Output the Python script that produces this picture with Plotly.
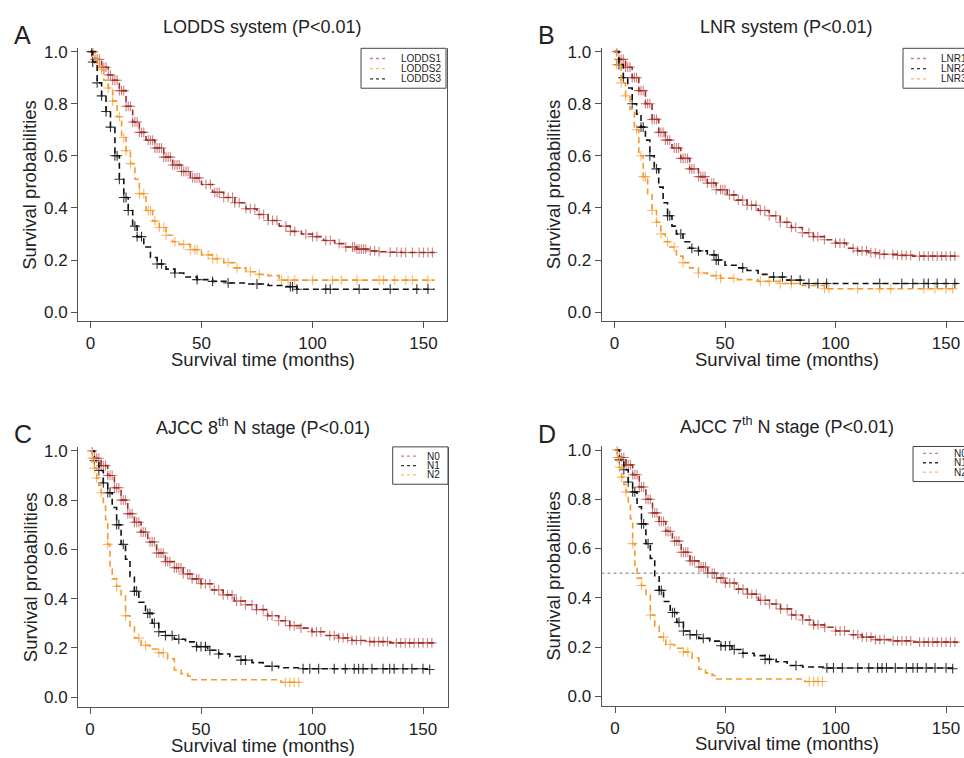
import numpy as np
import plotly.graph_objects as go

# ---------------- data ----------------
# Panel A: LODDS system
LODDS1_t = [0, 2, 5, 8, 10, 13, 16, 19, 22, 25, 29, 33, 37, 41, 45, 50, 55, 60, 65, 70, 75, 80, 85, 90, 95,
            100, 105, 110, 115, 120, 125, 130, 135, 140, 155]
LODDS1_s = [1.0, 0.97, 0.94, 0.91, 0.89, 0.85, 0.79, 0.73, 0.69, 0.66, 0.63, 0.595, 0.565, 0.54, 0.515, 0.49,
            0.46, 0.44, 0.42, 0.397, 0.375, 0.352, 0.33, 0.31, 0.30, 0.29, 0.275, 0.263, 0.25, 0.242, 0.235,
            0.232, 0.23, 0.229, 0.229]
LODDS1_cens = [1, 2, 3, 4, 5, 6, 7, 8, 9, 10, 11, 12, 13, 14, 15, 16, 17, 18, 19, 20, 21, 22, 23, 24, 26, 27,
               28, 29, 30, 31, 32, 33, 34, 35, 36, 37, 38, 39, 40, 41, 42, 43, 44, 46, 47, 48, 49, 52, 54, 56,
               57, 58, 60, 62, 64, 65, 67, 70, 72, 74, 76, 78, 80, 82, 84, 88, 90, 92, 97, 100, 102, 106, 108,
               112, 115, 118, 119, 120, 121, 122, 123, 124, 126, 128, 130, 135, 138, 140, 142, 145, 148, 150,
               152, 154]
LODDS2_t = [0, 2, 4, 6, 8, 10, 12, 14, 16, 18, 20, 22, 25, 28, 31, 34, 37, 40, 45, 50, 55, 60, 65, 70, 75, 80,
            85, 155]
LODDS2_s = [1.0, 0.97, 0.93, 0.89, 0.86, 0.81, 0.75, 0.67, 0.62, 0.57, 0.51, 0.455, 0.39, 0.35, 0.325, 0.295,
            0.27, 0.26, 0.24, 0.22, 0.205, 0.19, 0.17, 0.155, 0.145, 0.14, 0.123, 0.123]
LODDS2_cens = [1, 3, 5, 8, 10, 13, 15, 16, 18, 22, 24, 26, 27, 29, 31, 33, 34, 38, 42, 45, 47, 48, 53, 55,
               57, 62, 66, 72, 76, 86, 89, 92, 100, 109, 113, 120, 130, 132, 137, 142, 145, 152]
LODDS3_t = [0, 1, 3, 5, 7, 9, 11, 13, 15, 17, 19, 21, 24, 27, 30, 34, 38, 42, 48, 55, 62, 70, 80, 88, 93, 155]
LODDS3_s = [1.0, 0.96, 0.88, 0.83, 0.77, 0.71, 0.60, 0.51, 0.44, 0.39, 0.33, 0.29, 0.25, 0.21, 0.185, 0.165,
            0.15, 0.135, 0.125, 0.118, 0.112, 0.108, 0.102, 0.098, 0.088, 0.088]
LODDS3_cens = [0.5, 1, 3, 5, 7, 9, 11, 12, 13, 15, 16, 17, 20, 21, 23, 30, 32, 38, 48, 55, 62, 75, 90, 91,
               93, 106, 108, 121, 135, 147, 152]

# Panel B: LNR system
LNR1_t = [0, 2, 5, 8, 11, 14, 17, 20, 23, 26, 30, 34, 38, 42, 46, 51, 55, 60, 65, 70, 75, 80, 85, 90, 95, 100,
          105, 110, 115, 120, 128, 135, 155]
LNR1_s = [1.0, 0.97, 0.94, 0.90, 0.85, 0.80, 0.74, 0.69, 0.66, 0.63, 0.59, 0.55, 0.52, 0.495, 0.47, 0.45, 0.43,
          0.41, 0.39, 0.37, 0.345, 0.325, 0.305, 0.29, 0.278, 0.265, 0.245, 0.235, 0.228, 0.222, 0.218, 0.215,
          0.215]
LNR1_cens = [1, 2, 3, 4, 5, 6, 7, 8, 9, 10, 11, 12, 13, 14, 15, 16, 17, 18, 19, 20, 21, 22, 23, 24, 25, 27, 28,
             29, 30, 31, 32, 33, 34, 35, 36, 38, 39, 40, 41, 42, 44, 45, 46, 48, 49, 50, 52, 54, 56, 58, 60, 62,
             64, 66, 68, 70, 73, 75, 78, 80, 82, 85, 88, 90, 92, 95, 100, 102, 104, 108, 110, 112, 114, 116, 118,
             120, 122, 126, 128, 130, 132, 134, 138, 140, 142, 144, 146, 148, 150, 152, 154]
LNR2_t = [0, 2, 4, 6, 8, 10, 12, 14, 16, 18, 20, 22, 24, 26, 28, 31, 34, 38, 42, 46, 50, 55, 60, 65, 70, 77, 85,
          155]
LNR2_s = [1.0, 0.95, 0.90, 0.86, 0.80, 0.76, 0.71, 0.66, 0.60, 0.55, 0.48, 0.42, 0.37, 0.33, 0.30, 0.27, 0.245,
          0.235, 0.22, 0.20, 0.18, 0.17, 0.16, 0.145, 0.135, 0.123, 0.11, 0.107]
LNR2_cens = [2, 4, 8, 12, 13, 16, 19, 24, 25, 30, 35, 38, 45, 46, 47, 58, 72, 76, 80, 84, 88, 92, 96, 120, 130,
             135, 140, 142, 146, 150, 154]
LNR3_t = [0, 1, 3, 5, 7, 9, 11, 13, 15, 17, 19, 21, 23, 25, 28, 31, 34, 38, 42, 48, 55, 65, 75, 85, 95, 155]
LNR3_s = [1.0, 0.95, 0.88, 0.83, 0.78, 0.70, 0.60, 0.52, 0.45, 0.39, 0.345, 0.30, 0.27, 0.25, 0.215, 0.19, 0.17,
          0.15, 0.14, 0.13, 0.125, 0.118, 0.11, 0.102, 0.09, 0.088]
LNR3_cens = [1, 3, 5, 10, 12, 13, 14, 17, 19, 21, 24, 27, 31, 38, 46, 48, 54, 66, 70, 75, 80, 95, 97, 110, 120,
             125, 140, 145, 150, 153]

# Panel C: AJCC 8th N stage
N0_8_t = [0, 2, 5, 8, 11, 14, 17, 20, 23, 26, 30, 34, 38, 42, 46, 50, 55, 60, 65, 70, 75, 80, 85, 90, 95, 100,
          106, 112, 118, 125, 135, 155]
N0_8_s = [1.0, 0.97, 0.94, 0.90, 0.85, 0.80, 0.745, 0.71, 0.67, 0.63, 0.585, 0.55, 0.525, 0.50, 0.48, 0.46,
          0.435, 0.415, 0.39, 0.375, 0.355, 0.33, 0.31, 0.29, 0.28, 0.265, 0.25, 0.24, 0.23, 0.225, 0.22, 0.215]
N0_8_cens = [1, 2, 3, 4, 5, 6, 7, 8, 9, 10, 11, 12, 13, 14, 15, 16, 17, 18, 19, 20, 21, 22, 23, 24, 25, 27, 28,
             29, 30, 31, 32, 33, 34, 35, 36, 38, 39, 40, 41, 42, 44, 45, 46, 48, 49, 50, 52, 54, 56, 58, 60, 62,
             64, 66, 68, 70, 73, 75, 78, 80, 82, 85, 88, 90, 92, 95, 100, 102, 104, 108, 110, 112, 114, 116, 118,
             120, 122, 126, 128, 130, 132, 134, 138, 140, 142, 144, 146, 148, 150, 152, 154]
N1_8_t = [0, 2, 4, 6, 8, 10, 12, 14, 16, 18, 20, 22, 25, 28, 31, 34, 38, 43, 48, 53, 58, 63, 68, 73, 78, 85, 95,
          153]
N1_8_s = [1.0, 0.96, 0.92, 0.87, 0.83, 0.77, 0.70, 0.62, 0.56, 0.49, 0.43, 0.385, 0.34, 0.30, 0.265, 0.25,
          0.235, 0.224, 0.205, 0.19, 0.175, 0.165, 0.15, 0.14, 0.125, 0.119, 0.115, 0.112]
N1_8_cens = [2, 4, 6, 8, 9, 12, 13, 15, 20, 21, 26, 27, 29, 31, 34, 37, 40, 48, 50, 52, 54, 58, 68, 70, 82, 96,
             99, 103, 110, 115, 119, 121, 123, 127, 132, 135, 137, 141, 145, 150, 153]
N2_8_t = [0, 1, 2, 3, 4, 5, 6, 7, 8, 9, 10, 12, 14, 16, 18, 20, 23, 27, 31, 35, 38, 41, 44, 46, 86, 94.6]
N2_8_s = [1.0, 0.97, 0.93, 0.89, 0.86, 0.83, 0.79, 0.72, 0.62, 0.52, 0.48, 0.45, 0.41, 0.33, 0.285, 0.24, 0.21,
          0.195, 0.18, 0.155, 0.11, 0.095, 0.085, 0.07, 0.06, 0.06]
N2_8_cens = [1, 2, 3, 5, 8, 12, 16, 22, 25, 31, 33, 88, 90, 92, 94]

# Panel D: AJCC 7th N stage (same groups as the 8th edition in this cohort)
N0_7_t, N0_7_s, N0_7_cens = N0_8_t, N0_8_s, N0_8_cens
N1_7_t, N1_7_s, N1_7_cens = N1_8_t, N1_8_s, N1_8_cens
N2_7_t, N2_7_s, N2_7_cens = N2_8_t, N2_8_s, N2_8_cens

X_TICKS = [0, 50, 100, 150]
Y_TICKS = [0.0, 0.2, 0.4, 0.6, 0.8, 1.0]
Y_TICK_TEXT = ["0.0", "0.2", "0.4", "0.6", "0.8", "1.0"]
MEDIAN_LINE = 0.5

# ---------------- styling ----------------
W, H = 964, 758
FONT = "Liberation Sans, Arial, Helvetica, sans-serif"
TXT = "#222222"
AXC = "#555555"
RED = "#A52F2A"
ORANGE = "#F5992B"
BLACK = "#111111"
RED_M = "rgba(165,47,42,0.6)"
ORANGE_M = "rgba(245,153,43,0.7)"
BLACK_M = "rgba(17,17,17,0.85)"


def fx(p):
    return p / W


def fy(p):
    return 1 - p / H


# pixel geometry of each panel: box edges, pixel of t=0, px per month, pixel of s=0, px per unit
PANELS = [
    dict(letter="A", title="LODDS system (P<0.01)", box=(78, 447, 42.7, 318.3), x0=90.5, xs=2.22, y0=309, ys=263,
         mirror=True,
         series=[("LODDS1", LODDS1_t, LODDS1_s, LODDS1_cens, RED, RED_M),
                 ("LODDS2", LODDS2_t, LODDS2_s, LODDS2_cens, ORANGE, ORANGE_M),
                 ("LODDS3", LODDS3_t, LODDS3_s, LODDS3_cens, BLACK, BLACK_M)],
         legend=dict(box=(361, 446, 42.7, 83), line=(370, 388), text=399, rows=(53, 63.3, 73.5))),
    dict(letter="B", title="LNR system (P<0.01)", box=(601.5, 964, 42.7, 318.3), x0=614.5, xs=2.21, y0=309, ys=263,
         mirror=False,
         series=[("LNR1", LNR1_t, LNR1_s, LNR1_cens, RED, RED_M),
                 ("LNR2", LNR2_t, LNR2_s, LNR2_cens, BLACK, BLACK_M),
                 ("LNR3", LNR3_t, LNR3_s, LNR3_cens, ORANGE, ORANGE_M)],
         legend=dict(box=(903, 1000, 42.7, 83), line=(911, 926), text=939, rows=(53, 63.3, 73.5))),
    dict(letter="C", title="AJCC 8<sup>th</sup> N stage (P<0.01)", box=(78, 448, 445, 708), x0=90, xs=2.22,
         y0=697.5, ys=248.5, mirror=True,
         series=[("N0", N0_8_t, N0_8_s, N0_8_cens, RED, RED_M),
                 ("N1", N1_8_t, N1_8_s, N1_8_cens, BLACK, BLACK_M),
                 ("N2", N2_8_t, N2_8_s, N2_8_cens, ORANGE, ORANGE_M)],
         legend=dict(box=(392.7, 448, 445, 482.7), line=(401, 417), text=425, rows=(454.3, 464, 473.3))),
    dict(letter="D", title="AJCC 7<sup>th</sup> N stage (P<0.01)", box=(601.5, 964, 444.6, 706.7), x0=615, xs=2.207,
         y0=696.7, ys=248.5, mirror=False,
         series=[("N0", N0_7_t, N0_7_s, N0_7_cens, RED, RED_M),
                 ("N1", N1_7_t, N1_7_s, N1_7_cens, BLACK, BLACK_M),
                 ("N2", N2_7_t, N2_7_s, N2_7_cens, ORANGE, ORANGE_M)],
         legend=dict(box=(913, 1000, 444.6, 480), line=(923, 941), text=952, rows=(451.5, 461, 470.5))),
]

fig = go.Figure()
shapes = []
annotations = []

for i, p in enumerate(PANELS):
    k = "" if i == 0 else str(i + 1)
    xa, ya = "x" + k, "y" + k
    left, right, top, bottom = p["box"]
    xr = [(left - p["x0"]) / p["xs"], (right - p["x0"]) / p["xs"]]
    yr = [(p["y0"] - bottom) / p["ys"], (p["y0"] - top) / p["ys"]]

    for name, t, s, cens, col, mcol in p["series"]:
        t_arr = np.asarray(t, dtype=float)
        s_arr = np.asarray(s, dtype=float)
        fig.add_trace(go.Scatter(x=t_arr, y=s_arr, mode="lines", line_shape="hv",
                                 line=dict(color=col, width=1.6, dash="6px,4px"),
                                 xaxis=xa, yaxis=ya, showlegend=False, hoverinfo="skip"))
        c_arr = np.asarray(cens, dtype=float)
        idx = np.searchsorted(t_arr, c_arr, side="right") - 1
        fig.add_trace(go.Scatter(x=c_arr, y=s_arr[idx], mode="markers",
                                 marker=dict(symbol="cross-thin", size=7, line=dict(color=mcol, width=1.1)),
                                 xaxis=xa, yaxis=ya, showlegend=False, hoverinfo="skip"))

    axis_common = dict(showgrid=False, zeroline=False, showline=True, linecolor=AXC, linewidth=1,
                       ticks="outside", ticklen=6, tickwidth=1, tickcolor=AXC,
                       tickfont=dict(family=FONT, size=17, color=TXT))
    fig.update_layout(**{
        ("xaxis" + k): dict(domain=[fx(left), min(fx(right), 1.0)], range=xr, anchor=ya,
                            tickvals=X_TICKS, mirror=False, **axis_common),
        ("yaxis" + k): dict(domain=[fy(bottom), fy(top)], range=yr, anchor=xa,
                            tickvals=Y_TICKS, ticktext=Y_TICK_TEXT, mirror=p["mirror"], **axis_common),
    })

    cx = (left + (right if right < 964 else left + 370)) / 2
    # title
    annotations.append(dict(text=p["title"], x=fx(cx), y=fy(top - 21), xref="paper", yref="paper",
                            showarrow=False, xanchor="center", yanchor="middle",
                            font=dict(family=FONT, size=18, color=TXT)))
    # panel letter
    annotations.append(dict(text=p["letter"], x=fx(left - 66), y=fy(top - 13), xref="paper", yref="paper",
                            showarrow=False, xanchor="left", yanchor="middle",
                            font=dict(family=FONT, size=25, color=TXT)))
    # axis titles
    annotations.append(dict(text="Survival time (months)", x=fx(left + 185), y=fy(bottom + 38),
                            xref="paper", yref="paper", showarrow=False, xanchor="center", yanchor="middle",
                            font=dict(family=FONT, size=18.5, color=TXT)))
    annotations.append(dict(text="Survival probabilities", x=fx(left - 48), y=fy((top + bottom) / 2),
                            xref="paper", yref="paper", showarrow=False, textangle=-90,
                            xanchor="center", yanchor="middle",
                            font=dict(family=FONT, size=18.5, color=TXT)))

    # legend box drawn by hand (R style)
    lg = p["legend"]
    bx0, bx1, by0, by1 = lg["box"]
    shapes.append(dict(type="rect", xref="paper", yref="paper", x0=fx(bx0), x1=fx(bx1), y0=fy(by1), y1=fy(by0),
                       line=dict(color="#444444", width=1), fillcolor="white", layer="above"))
    for (name, t, s, cens, col, mcol), ry in zip(p["series"], lg["rows"]):
        shapes.append(dict(type="line", xref="paper", yref="paper", x0=fx(lg["line"][0]), x1=fx(lg["line"][1]),
                           y0=fy(ry), y1=fy(ry), line=dict(color=mcol, width=1.3, dash="dot"), layer="above"))
        annotations.append(dict(text=name, x=fx(lg["text"]), y=fy(ry), xref="paper", yref="paper",
                                showarrow=False, xanchor="left", yanchor="middle",
                                font=dict(family=FONT, size=10, color=TXT)))

    if p["letter"] == "D":
        shapes.append(dict(type="line", xref="paper", yref=ya, x0=fx(left), x1=1.0, y0=MEDIAN_LINE,
                           y1=MEDIAN_LINE, line=dict(color="#777777", width=1, dash="dot")))

fig.update_layout(width=W, height=H, autosize=False, margin=dict(l=0, r=0, t=0, b=0),
                  paper_bgcolor="white", plot_bgcolor="white", showlegend=False,
                  shapes=shapes, annotations=annotations)

fig.write_html("out.html", config={"displayModeBar": False},
               post_script="document.body.style.margin='0';document.body.style.overflow='hidden';")
